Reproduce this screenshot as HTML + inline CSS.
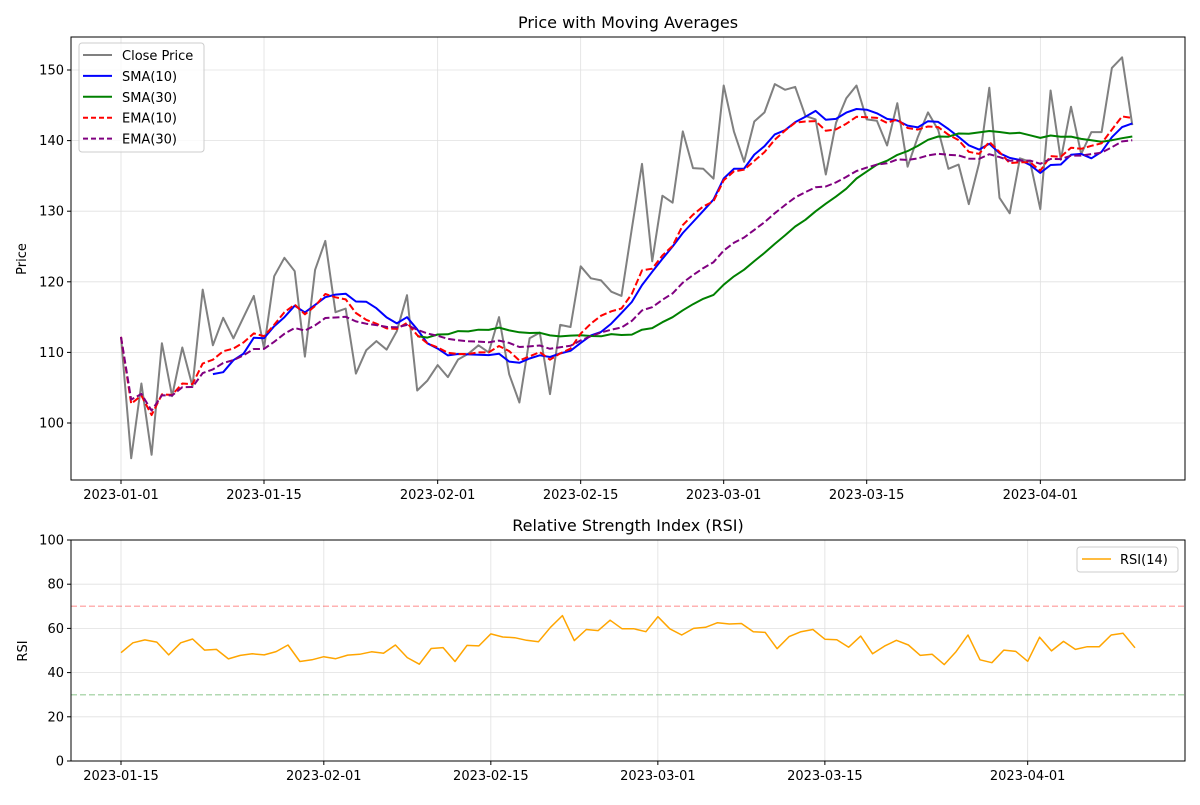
<!DOCTYPE html>
<html><head><meta charset="utf-8"><style>
body{margin:0;background:#fff;font-family:"Liberation Sans","DejaVu Sans",sans-serif}
svg text{font-family:"DejaVu Sans","Liberation Sans",sans-serif}
</style></head><body>
<svg id="c" width="1200" height="800" xmlns="http://www.w3.org/2000/svg"></svg>
<script>
const startDate = new Date(Date.UTC(2023,0,1));
const closePrices = [112.2,95.0,105.6,95.5,111.3,103.8,110.7,105.2,118.9,111.0,114.9,112.0,115.0,118.0,110.6,120.8,123.4,121.5,109.4,121.7,125.8,115.7,116.2,107.0,110.3,111.6,110.4,113.0,118.1,104.6,106.0,108.2,106.5,109.0,109.8,111.0,110.0,115.0,106.9,102.9,112.0,112.8,104.1,113.9,113.6,122.2,120.5,120.2,118.6,118.0,127.5,136.7,122.9,132.2,131.2,141.3,136.1,136.0,134.6,147.8,141.3,137.0,142.7,144.0,148.0,147.2,147.6,143.5,143.0,135.2,142.5,146.0,147.8,143.0,142.8,139.3,145.3,136.3,140.5,144.0,141.5,136.0,136.6,131.0,136.8,147.5,131.9,129.7,137.5,137.0,130.3,147.1,137.3,144.8,138.1,141.2,141.2,150.3,151.8,142.2];
const rsiStart = 14;
const rsiValues = [49,53.5,54.8,53.8,48,53.5,55.2,50.2,50.5,46.2,47.8,48.5,48.0,49.5,52.5,45,45.8,47.2,46.3,47.9,48.3,49.4,48.8,52.5,46.8,43.8,50.9,51.3,45.0,52.3,52.1,57.5,56.1,55.8,54.6,54.0,60.5,65.8,54.5,59.5,59.0,63.7,59.8,59.8,58.5,65.3,59.8,57.0,60,60.5,62.6,62.0,62.2,58.5,58.2,50.8,56.3,58.5,59.5,55.1,54.9,51.5,56.5,48.5,52.0,54.6,52.5,47.8,48.3,43.6,49.5,57.0,45.8,44.5,50.2,49.6,45.1,56.0,49.8,54.1,50.5,51.7,51.7,57.0,57.8,51.2];
const priceTicks = [100,110,120,130,140,150];
const priceDateTicks = ["2023-01-01","2023-01-15","2023-02-01","2023-02-15","2023-03-01","2023-03-15","2023-04-01"];
const rsiTicks = [0,20,40,60,80,100];
const rsiDateTicks = ["2023-01-15","2023-02-01","2023-02-15","2023-03-01","2023-03-15","2023-04-01"];

const NS="http://www.w3.org/2000/svg";
const svg=document.getElementById('c');
function el(tag,attrs,parent){const e=document.createElementNS(NS,tag);for(const k in attrs)e.setAttribute(k,attrs[k]);(parent||svg).appendChild(e);return e;}
function dayOf(s){return (new Date(s+"T00:00:00Z")-startDate)/86400000;}

function sma(a,n){return a.map((v,i)=>{if(i<n-1)return null;let s=0;for(let j=i-n+1;j<=i;j++)s+=a[j];return s/n;});}
function ema(a,n){const al=2/(n+1);let num=0,den=0;return a.map(v=>{num=v+(1-al)*num;den=1+(1-al)*den;return num/den;});}

// top axes
const T={x0:71,x1:1185,y0:37,y1:480};
const tx=d=>121+d*10.215;
const ty=v=>423-(v-100)*7.06;
// bottom axes
const B={x0:71,x1:1185,y0:540,y1:761};
const bx=d=>121+(d-14)*11.93;
const by=v=>761-v*2.21;

function grid(A,xs,ys){
  xs.forEach(x=>{const l=el('line',{x1:x,x2:x,y1:A.y0,y2:A.y1,stroke:'#e0e0e0','stroke-width':0.8});});
  ys.forEach(y=>{const l=el('line',{x1:A.x0,x2:A.x1,y1:y,y2:y,stroke:'#e0e0e0','stroke-width':0.8});});
}
function frame(A,name){const r=el('rect',{x:A.x0,y:A.y0,width:A.x1-A.x0,height:A.y1-A.y0,fill:'none',stroke:'#000','stroke-width':1});}
function txt(x,y,s,o){const t=el('text',Object.assign({x:x,y:y,'font-size':13,fill:'#000'},o||{}));t.textContent=s;return t;}
function poly(pts,color,dash,w,name){
  const d=pts.filter(p=>p).map((p,i)=>(i?'L':'M')+p[0].toFixed(1)+','+p[1].toFixed(1)).join('');
  const p=el('path',{d:d,fill:'none',stroke:color,'stroke-width':w||1.5,'stroke-dasharray':dash||'none','stroke-linejoin':'round'});
  return p;
}

// --- top chart
grid(T,priceDateTicks.map(s=>tx(dayOf(s))),priceTicks.map(ty));
const s10=sma(closePrices,10),s30=sma(closePrices,30),e10=ema(closePrices,10),e30=ema(closePrices,30);
poly(closePrices.map((v,i)=>[tx(i),ty(v)]),'#808080',null,2,'close-price-line');
poly(s10.map((v,i)=>v==null?null:[tx(i),ty(v)]),'#0000ff',null,2,'sma10-line');
poly(s30.map((v,i)=>v==null?null:[tx(i),ty(v)]),'#008000',null,2,'sma30-line');
poly(e10.map((v,i)=>[tx(i),ty(v)]),'#ff0000','7,3',2,'ema10-line');
poly(e30.map((v,i)=>[tx(i),ty(v)]),'#800080','7,3',2,'ema30-line');
frame(T,'price-axes-frame');
priceTicks.forEach(v=>{el('line',{x1:T.x0-4,x2:T.x0,y1:ty(v),y2:ty(v),stroke:'#000'});const t=txt(T.x0-7,ty(v)+4.5,String(v),{'text-anchor':'end'});});
priceDateTicks.forEach(s=>{const x=tx(dayOf(s));el('line',{x1:x,x2:x,y1:T.y1,y2:T.y1+4,stroke:'#000'});const t=txt(x,T.y1+19,s,{'text-anchor':'middle'});});
let t=txt(628,28,'Price with Moving Averages',{'text-anchor':'middle','font-size':16});
t=txt(26,259,'Price',{'text-anchor':'middle',transform:'rotate(-90 26 259)'});

// legend
const lg=el('g',{});
el('rect',{x:79,y:43,width:125,height:109,rx:3,fill:'#fff','fill-opacity':0.8,stroke:'#ccc'},lg);
[['Close Price','#808080',null],['SMA(10)','#0000ff',null],['SMA(30)','#008000',null],['EMA(10)','#ff0000','5,3'],['EMA(30)','#800080','5,3']].forEach((e,i)=>{
  const y=55+i*20.9;
  const g=el('g',{},lg);
  el('line',{x1:83,x2:112,y1:y,y2:y,stroke:e[1],'stroke-width':2,'stroke-dasharray':e[2]||'none'},g);
  const tt=el('text',{x:122,y:y+5,'font-size':13},g);tt.textContent=e[0];
});

// --- bottom chart
grid(B,rsiDateTicks.map(s=>bx(dayOf(s))),rsiTicks.map(by));
let l=el('line',{x1:B.x0,x2:B.x1,y1:by(70),y2:by(70),stroke:'#ff0000','stroke-opacity':0.3,'stroke-width':1.5,'stroke-dasharray':'6,3'});
l=el('line',{x1:B.x0,x2:B.x1,y1:by(30),y2:by(30),stroke:'#008000','stroke-opacity':0.3,'stroke-width':1.5,'stroke-dasharray':'6,3'});
poly(rsiValues.map((v,i)=>[bx(rsiStart+i),by(v)]),'#ffa500',null,1.5,'rsi-line');
frame(B,'rsi-axes-frame');
rsiTicks.forEach(v=>{el('line',{x1:B.x0-4,x2:B.x0,y1:by(v),y2:by(v),stroke:'#000'});const t=txt(B.x0-7,by(v)+4.5,String(v),{'text-anchor':'end'});});
rsiDateTicks.forEach(s=>{const x=bx(dayOf(s));el('line',{x1:x,x2:x,y1:B.y1,y2:B.y1+4,stroke:'#000'});const t=txt(x,B.y1+19,s,{'text-anchor':'middle'});});
t=txt(628,531,'Relative Strength Index (RSI)',{'text-anchor':'middle','font-size':16});
t=txt(27,651,'RSI',{'text-anchor':'middle',transform:'rotate(-90 27 651)'});
const rl=el('g',{});
el('rect',{x:1077,y:547,width:101,height:25,rx:3,fill:'#fff','fill-opacity':0.8,stroke:'#ccc'},rl);
el('line',{x1:1082,x2:1111,y1:559,y2:559,stroke:'#ffa500','stroke-width':1.5},rl);
const rt=el('text',{x:1120,y:564,'font-size':13},rl);rt.textContent='RSI(14)';
</script>
</body></html>
